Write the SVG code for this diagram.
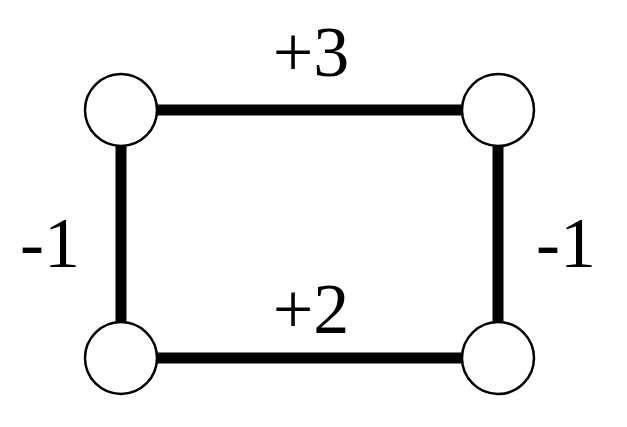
<svg xmlns="http://www.w3.org/2000/svg" width="627" height="427" viewBox="0 0 627 427">
<style>
.e{stroke:#000;stroke-width:11;fill:none}
.n{fill:#fff;stroke:#000;stroke-width:2.5}
.t{font-family:"Liberation Serif",serif;font-size:72px;text-anchor:middle;fill:#000}
</style>
<rect width="627" height="427" fill="#fff"/>
<g id="connectors">
<line class="e" x1="121" y1="110" x2="498" y2="110"/>
<line class="e" x1="121" y1="358" x2="498" y2="358"/>
<line class="e" x1="121" y1="110" x2="121" y2="358"/>
<line class="e" x1="498" y1="110" x2="498" y2="358"/>
</g>
<g id="n1"><circle class="n" cx="121" cy="110" r="36"/></g>
<g id="n2"><circle class="n" cx="498" cy="110" r="36"/></g>
<g id="n3"><circle class="n" cx="121" cy="358" r="36"/></g>
<g id="n4"><circle class="n" cx="498" cy="358" r="36"/></g>
<g id="labels">
<text class="t" x="311" y="76">+3</text>
<text class="t" x="311" y="333">+2</text>
<text class="t" x="50" y="267">-1</text>
<text class="t" x="566" y="267">-1</text>
</g>
</svg>
